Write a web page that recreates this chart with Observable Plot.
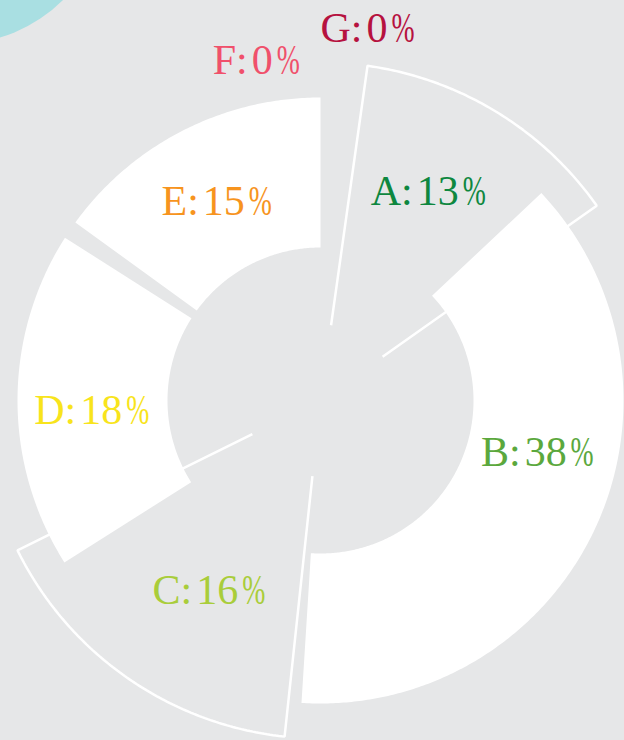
<!DOCTYPE html>
<html><head><meta charset="utf-8">
<script src="https://cdn.jsdelivr.net/npm/d3@7"></script>
<script src="https://cdn.jsdelivr.net/npm/@observablehq/plot@0.6"></script>
<style>
html,body{margin:0;padding:0;background:#e6e7e8;overflow:hidden;}
#chart svg{display:block;}
#chart text{word-spacing:-6.5px;}
</style></head><body><div id="chart"></div>
<script>
// ---- data ----
const categories = ["A", "B", "C", "D", "E", "F", "G"];
const shares = [13, 38, 16, 18, 15, 0, 0];           // percent
const labelColors = ["#0e873f", "#5ba83d", "#a9cd3a", "#f8e41c", "#f7941e", "#f0506b", "#b6123f"];
const highlighted = ["A", "C"];                       // drawn as outlined, larger wedges

// ---- style / layout settings ----
const BG = "#e6e7e8";
const TEAL = "#a9dfe2";
const ringFilled = [153, 303];     // inner / outer radius of white wedges
const ringOutlined = [76, 338];    // inner / outer radius of outlined wedges
const sliceTurn = {A: 8, C: 2.5, D: -3.5};             // small rotation of individual wedges (deg)
const labelShift = {                                   // angular shift (deg) and radius of labels
  A: [-4.1, 235], B: [-11.7, 223], C: [-4.4, 220], D: [-2.6, 229],
  E: [-0.6, 224], F: [-10.7, 346], G: [7.2, 375]
};
const decor = {x: -363.5, y: -506.6, r: 150};           // teal disc in the corner

// ---- geometry ----
const rad = a => a * Math.PI / 180;
const pt = (r, a) => ({x: r * Math.sin(rad(a)), y: -r * Math.cos(rad(a))});

let cum = 0;
const slices = categories.map((key, i) => {
  const start = cum * 3.6 + (sliceTurn[key] || 0);
  const end = start + shares[i] * 3.6;
  cum += shares[i];
  return {key, share: shares[i], start, end, mid: (start + end) / 2, color: labelColors[i],
          outlined: highlighted.includes(key)};
});

function outerArc(s, r1) {
  const n = Math.max(2, Math.ceil((s.end - s.start) / 0.5));
  return d3.range(n + 1).map(k => ({key: s.key, ...pt(r1, s.start + (s.end - s.start) * k / n)}));
}
function wedge(s) {            // closed ring sector
  const [r0, r1] = ringFilled;
  const outer = outerArc(s, r1);
  const inner = outerArc(s, r0).reverse();
  return [...outer, ...inner, outer[0]];
}
function outline(s) {          // open outline: two radial edges + outer arc
  const [r0, r1] = ringOutlined;
  return [{key: s.key, ...pt(r0, s.start)}, ...outerArc(s, r1), {key: s.key, ...pt(r0, s.end)}];
}
const drawn = slices.filter(s => s.share > 0);
const outlinePts = drawn.filter(s => s.outlined).flatMap(outline);
const filledPts = drawn.filter(s => !s.outlined).flatMap(wedge);

const labels = slices.map(s => {
  const [da, r] = labelShift[s.key];
  const p = pt(r, s.mid + da);
  return {...p, text: `${s.key}: ${s.share} %`, color: s.color};
});

const chart = Plot.plot({
  width: 624, height: 740, margin: 0,
  x: {domain: [-320, 304], range: [0, 624], axis: null},
  y: {domain: [-400, 340], range: [0, 740], axis: null},
  style: {background: BG, overflow: "hidden"},
  marks: [
    Plot.dot([decor], {x: "x", y: "y", r: decor.r, fill: TEAL, stroke: "none"}),
    Plot.line(outlinePts, {x: "x", y: "y", z: "key", fill: "none", stroke: "white", strokeWidth: 2.5,
                           strokeLinejoin: "miter", strokeLinecap: "butt", curve: "linear"}),
    Plot.line(filledPts, {x: "x", y: "y", z: "key", fill: "white", stroke: "none", curve: "linear"}),
    Plot.text(labels, {x: "x", y: "y", text: "text", fill: "color", fontSize: 42,
                       fontFamily: "Liberation Serif", textAnchor: "middle", lineAnchor: "middle"})
  ]
});
document.getElementById("chart").append(chart);

// narrow percent sign, as in the original typeface
const NS = "http://www.w3.org/2000/svg";
chart.querySelectorAll("text").forEach(t => {
  const s = t.textContent;
  const head = document.createElementNS(NS, "tspan");
  head.textContent = s.slice(0, -1);
  const pct = document.createElementNS(NS, "tspan");
  pct.textContent = "%";
  t.textContent = "";
  t.append(head, pct);
  const w = pct.getComputedTextLength();
  pct.setAttribute("textLength", (w * 0.66).toFixed(1));
  pct.setAttribute("lengthAdjust", "spacingAndGlyphs");
});
</script></body></html>
